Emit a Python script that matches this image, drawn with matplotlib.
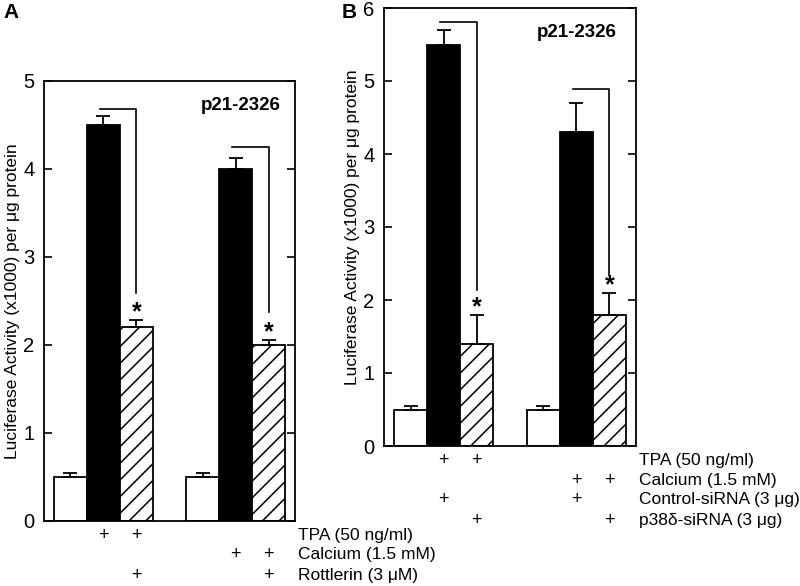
import numpy as np
import matplotlib.pyplot as plt

plt.rcParams['font.family'] = ['Liberation Sans', 'DejaVu Sans']
plt.rcParams['hatch.linewidth'] = 1.1

# bar order per panel: white, black, hatched, white, black, hatched
pos = [0, 1, 2, 4, 5, 6]
styles = ['white', 'black', 'hatch', 'white', 'black', 'hatch']

# panel A
a_vals = [0.5, 4.5, 2.2, 0.5, 4.0, 2.0]
a_err = [0.05, 0.1, 0.08, 0.05, 0.12, 0.06]
a_brackets = [(1, 2, 4.68, 2.59), (4, 5, 4.25, 2.37)]  # black idx, hatched idx, top, bottom
a_rows = ['TPA (50 ng/ml)', 'Calcium (1.5 mM)', 'Rottlerin (3 \u03bcM)']
a_plus = [[1, 2], [4, 5], [2, 5]]

# panel B
b_vals = [0.5, 5.5, 1.4, 0.5, 4.3, 1.8]
b_err = [0.05, 0.2, 0.4, 0.05, 0.4, 0.3]
b_brackets = [(1, 2, 5.81, 2.14), (4, 5, 4.89, 2.34)]
b_rows = ['TPA (50 ng/ml)', 'Calcium (1.5 mM)', 'Control-siRNA (3 \u03bcg)', 'p38\u03b4-siRNA (3 \u03bcg)']
b_plus = [[1, 2], [4, 5], [1, 4], [2, 5]]

ylabel = 'Luciferase Activity (x1000) per \u03bcg protein'


def draw_panel(ax, vals, err, brackets, rows, plus, ymax, row_y, title_xy):
    for x, v, e, s in zip(pos, vals, err, styles):
        fc = 'black' if s == 'black' else 'white'
        hatch = '//' if s == 'hatch' else None
        ax.bar(x, v, width=1.0, color=fc, edgecolor='black', linewidth=1.3,
               hatch=hatch, zorder=2)
        ax.errorbar(x, v, yerr=[[0], [e]], fmt='none', ecolor='black',
                    elinewidth=1.3, capsize=5, capthick=1.3, zorder=3)
    for bi, hi, top, bot in brackets:
        x0 = pos[bi] - 0.1
        x1 = pos[hi]
        ax.plot([x0, x1, x1], [top, top, bot], color='black', lw=1.2,
                zorder=3, clip_on=False)
        star_y = vals[hi] + err[hi]
        ax.annotate('*', (x1, star_y), xytext=(0, 0.5), textcoords='offset points',
                    ha='center', va='baseline', fontsize=18, fontweight='bold')
    ax.set_xlim(-0.8, 6.8)
    ax.set_ylim(0, ymax)
    ax.set_yticks(range(0, ymax + 1))
    ax.set_xticks([])
    ax.tick_params(axis='y', direction='in', length=6, width=1.2, labelsize=14.5,
                   pad=7, right=True)
    for sp in ax.spines.values():
        sp.set_linewidth(1.3)
    ax.set_ylabel(ylabel, fontsize=12.5, labelpad=2)
    trans = ax.get_xaxis_transform()
    for r, (lab, pl) in enumerate(zip(rows, plus)):
        ax.text(1.01, row_y[r], lab, transform=ax.transAxes, fontsize=12.5,
                ha='left', va='center')
        for p in pl:
            ax.text(pos[p], row_y[r], '+', transform=trans, fontsize=13,
                    ha='center', va='center')
    ax.text(title_xy[0], title_xy[1], 'p21-2326', transform=ax.transAxes,
            fontsize=13.5, fontweight='bold', ha='right', va='center')


fig = plt.figure(figsize=(8, 5.86), dpi=100)
axA = fig.add_axes([44 / 800, 65 / 586, 251 / 800, 440 / 586])
axB = fig.add_axes([384 / 800, 140 / 586, 252 / 800, 438 / 586])

draw_panel(axA, a_vals, a_err, a_brackets, a_rows, a_plus, 5,
           [-0.034, -0.077, -0.123], (0.944, 0.945))
draw_panel(axB, b_vals, b_err, b_brackets, b_rows, b_plus, 6,
           [-0.032, -0.078, -0.123, -0.169], (0.925, 0.943))

fig.text(3 / 800, 1 - 12 / 586, 'A', fontsize=15, fontweight='bold', va='center')
fig.text(342 / 800, 1 - 12 / 586, 'B', fontsize=15, fontweight='bold', va='center')

fig.savefig('out.png', dpi=100)
